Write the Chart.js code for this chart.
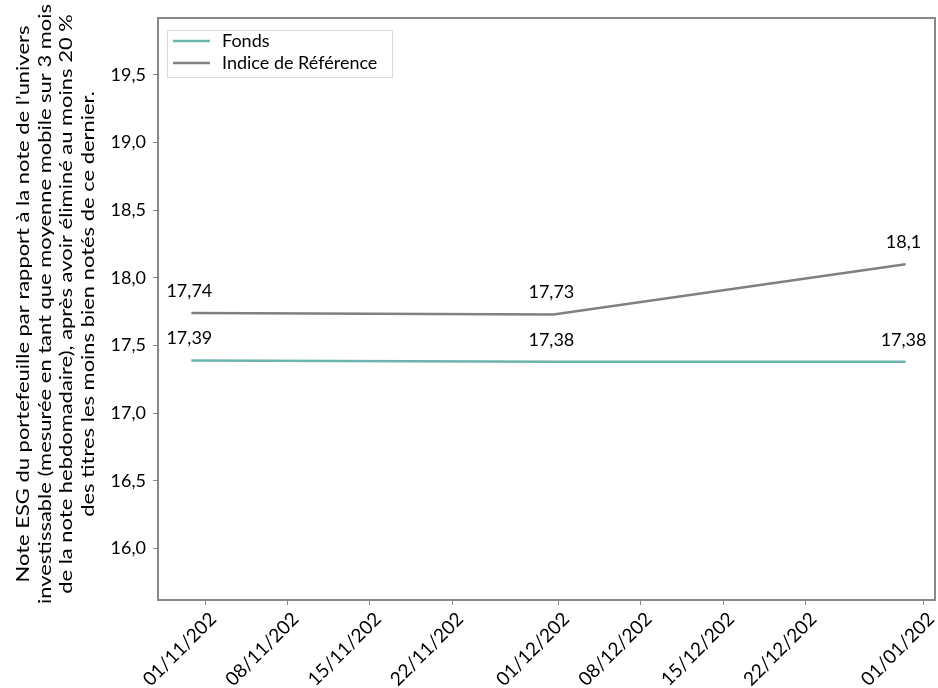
<!DOCTYPE html>
<html>
<head>
<meta charset="utf-8">
<script src="https://cdn.jsdelivr.net/npm/chart.js@4.4.1/dist/chart.umd.min.js"></script>
<style>
	body { margin: 0; background: #fff; }
	#wrap { width: 938px; height: 688px; }
</style>
</head>
<body>
<div id="wrap"><canvas id="chart--esg" width="938" height="688"></canvas></div>
<script>
const dates = ['2023-10-30T20:00', '2023-11-30T14:00', '2023-12-30T12:00']
const fonds = [17.39, 17.38, 17.38]
const indice = [17.74, 17.73, 18.1]

const tickDates = ['2023-11-01', '2023-11-08', '2023-11-15', '2023-11-22', '2023-12-01', '2023-12-08', '2023-12-15', '2023-12-22', '2024-01-01']
const tickLabels = ['01/11/202', '08/11/202', '15/11/202', '22/11/202', '01/12/202', '08/12/202', '15/12/202', '22/12/202', '01/01/202']
const yTicks = [16.0, 16.5, 17.0, 17.5, 18.0, 18.5, 19.0, 19.5]

const yTitle = [
	'Note ESG du portefeuille par rapport à la note de l’univers',
	'investissable (mesurée en tant que moyenne mobile sur 3 mois',
	'de la note hebdomadaire), après avoir éliminé au moins 20 %',
	'des titres les moins bien notés de ce dernier.'
]

function toDay(s) {
	return new Date(s + (s.length == 10 ? 'T00:00Z' : 'Z')).getTime() / 86400000
}

function frNum(v, d) {
	return v.toFixed(d).replace('.', ',')
}

var axisColor = '#878787'
var font = 'Lato, "Open Sans", sans-serif'

const boxPlugin = {
	id: 'box',
	afterDraw(chart) {
		var ctx = chart.ctx
		var a = chart.chartArea
		ctx.save()
		ctx.strokeStyle = axisColor
		ctx.lineWidth = 2
		ctx.beginPath()
		ctx.moveTo(a.left, a.top)
		ctx.lineTo(a.right, a.top)
		ctx.lineTo(a.right, a.bottom)
		ctx.stroke()
		ctx.restore()
	}
}

// the picture is stretched, so the long axis title is drawn by hand
const titlePlugin = {
	id: 'yTitle',
	afterDraw(chart) {
		var ctx = chart.ctx
		ctx.save()
		ctx.font = '18px ' + font
		ctx.fillStyle = '#000'
		ctx.textAlign = 'center'
		ctx.textBaseline = 'middle'
		var longest = Math.max.apply(null, yTitle.map(function(t) { return ctx.measureText(t).width }))
		var k = 600 / longest
		ctx.translate(23, 304)
		ctx.rotate(-Math.PI / 2)
		ctx.scale(k, 1)
		yTitle.forEach(function(t, i) {
			ctx.fillText(t, 0, i * 21.7)
		})
		ctx.restore()
	}
}

const xLabelPlugin = {
	id: 'xLabels',
	afterDraw(chart) {
		var ctx = chart.ctx
		var sc = chart.scales.x
		ctx.save()
		ctx.font = '19px ' + font
		ctx.fillStyle = '#000'
		ctx.textAlign = 'right'
		ctx.textBaseline = 'middle'
		sc.ticks.forEach(function(t, i) {
			var x = sc.getPixelForValue(t.value)
			ctx.save()
			ctx.translate(x + 8, sc.top + 16)
			ctx.rotate(-Math.PI / 4)
			ctx.fillText(tickLabels[i], 0, 0)
			ctx.restore()
		})
		ctx.restore()
	}
}

const labelPlugin = {
	id: 'labels',
	afterDatasetsDraw(chart) {
		var ctx = chart.ctx
		ctx.save()
		ctx.font = '18px ' + font
		ctx.fillStyle = '#000'
		ctx.textAlign = 'center'
		ctx.textBaseline = 'middle'
		chart.data.datasets.forEach(function(ds, i) {
			chart.getDatasetMeta(i).data.forEach(function(pt, j) {
				var v = ds.data[j].y
				var txt = (Math.round(v * 100) % 10 == 0) ? frNum(v, 1) : frNum(v, 2)
				ctx.fillText(txt, pt.x - 2, pt.y - 22)
			})
		})
		ctx.restore()
	}
}

const legendPlugin = {
	id: 'boxLegend',
	afterDraw(chart) {
		var ctx = chart.ctx
		ctx.save()
		ctx.fillStyle = '#fff'
		ctx.fillRect(167, 30, 225, 47)
		ctx.strokeStyle = '#d9d9d9'
		ctx.lineWidth = 1
		ctx.strokeRect(167.5, 30.5, 225, 47)
		ctx.font = '18px ' + font
		ctx.textBaseline = 'middle'
		ctx.textAlign = 'left'
		chart.data.datasets.forEach(function(ds, i) {
			var y = 41 + i * 22
			ctx.strokeStyle = ds.borderColor
			ctx.lineWidth = 2.5
			ctx.beginPath()
			ctx.moveTo(173, y)
			ctx.lineTo(210, y)
			ctx.stroke()
			ctx.fillStyle = '#000'
			ctx.fillText(ds.label, 222, y)
		})
		ctx.restore()
	}
}

const ctx = document.getElementById('chart--esg').getContext('2d')
const chart__esg = new Chart(ctx, {
	type: 'line',
	data: {
		datasets: [{
			label: 'Fonds',
			data: dates.map(function(d, i) { return { x: toDay(d), y: fonds[i] } }),
			borderColor: '#6db3ae',
			borderWidth: 2.5,
			pointRadius: 0,
			tension: 0
		}, {
			label: 'Indice de Référence',
			data: dates.map(function(d, i) { return { x: toDay(d), y: indice[i] } }),
			borderColor: '#808080',
			borderWidth: 2.5,
			pointRadius: 0,
			tension: 0
		}]
	},
	options: {
		responsive: false,
		animation: false,
		layout: {
			padding: { top: 18, right: 3, left: 0, bottom: 0 }
		},
		plugins: {
			legend: { display: false },
			tooltip: { enabled: false }
		},
		scales: {
			x: {
				type: 'linear',
				min: toDay('2023-10-28'),
				max: toDay('2024-01-02'),
				afterBuildTicks: function(scale) {
					scale.ticks = tickDates.map(function(d) { return { value: toDay(d) } })
				},
				afterFit: function(scale) {
					scale.height = 88
				},
				ticks: {
					display: false
				},
				grid: {
					drawOnChartArea: false,
					drawTicks: true,
					tickLength: 5,
					color: axisColor
				},
				border: { display: true, color: axisColor, width: 2 }
			},
			y: {
				min: 15.62,
				max: 19.92,
				afterBuildTicks: function(scale) {
					scale.ticks = yTicks.map(function(v) { return { value: v } })
				},
				afterFit: function(scale) {
					scale.width = 158
				},
				ticks: {
					color: '#000',
					padding: 7,
					font: { family: font, size: 18 },
					callback: function(v) { return frNum(v, 1) }
				},
				grid: {
					drawOnChartArea: false,
					drawTicks: true,
					tickLength: 5,
					color: axisColor
				},
				border: { display: true, color: axisColor, width: 2 }
			}
		}
	},
	plugins: [boxPlugin, titlePlugin, xLabelPlugin, labelPlugin, legendPlugin]
})
</script>
</body>
</html>
